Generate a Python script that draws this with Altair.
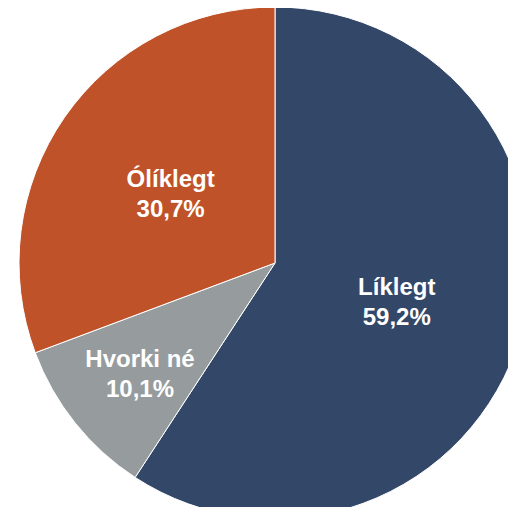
import altair as alt
import pandas as pd

categories = ["Líklegt", "Hvorki né", "Ólíklegt"]
values = [59.2, 10.1, 30.7]
colors = ["#334768", "#969C9D", "#BF5229"]

labels = [f"{c}\n{v:.1f}".replace(".", ",") + "%" for c, v in zip(categories, values)]
df = pd.DataFrame({
    "cat": categories,
    "val": values,
    "idx": list(range(len(categories))),
    "label": labels,
})

W, H = 500, 499
CX, CY = 267, 255
R = 256

base = alt.Chart(df).encode(
    theta=alt.Theta("val:Q", stack=True),
    order=alt.Order("idx:Q"),
    x=alt.value(CX),
    y=alt.value(CY),
)

pie = base.mark_arc(radius=R, stroke="white", strokeWidth=1).encode(
    color=alt.Color("cat:N", scale=alt.Scale(domain=categories, range=colors), legend=None),
)

txt_style = dict(font="Liberation Sans", fontSize=24, fontWeight="bold", color="white",
                 lineBreak="\n", lineHeight=30, align="center", baseline="middle", dy=-11)

text_main = base.mark_text(radius=127, **txt_style).encode(
    text=alt.condition(alt.datum.cat != "Hvorki né", alt.Text("label:N"), alt.value("")),
)
text_small = base.mark_text(radius=173, **txt_style).encode(
    text=alt.condition(alt.datum.cat == "Hvorki né", alt.Text("label:N"), alt.value("")),
)

chart = alt.layer(pie, text_main, text_small).properties(
    width=W, height=H,
    autosize=alt.AutoSizeParams(type="none"),
    padding=0,
).configure_view(stroke=None)

chart.save("out.html", embed_options={"renderer": "svg", "actions": False})
